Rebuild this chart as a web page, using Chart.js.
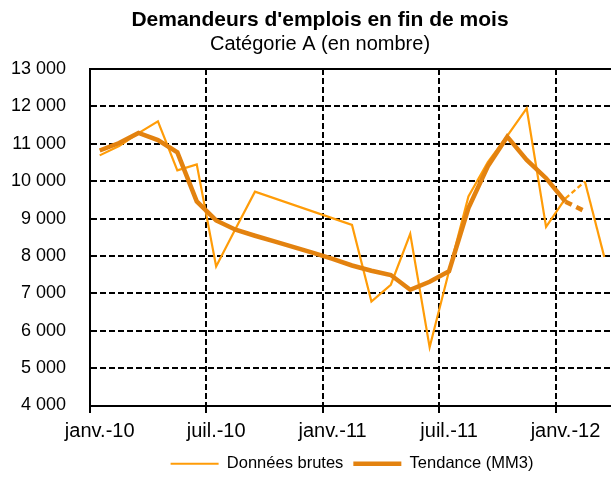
<!DOCTYPE html>
<html lang="fr">
<head>
<meta charset="utf-8">
<title>Demandeurs d'emplois en fin de mois</title>
<script src="https://cdn.jsdelivr.net/npm/chart.js@4.4.1/dist/chart.umd.min.js"></script>
<style>
  html, body { margin: 0; padding: 0; background: #fff; overflow: hidden; }
  #wrap { width: 704px; height: 488px; }
</style>
</head>
<body>
<div id="wrap"><canvas id="chart" width="704" height="488"></canvas></div>
<script>
// months on the x axis
const months = [
  'janv.-10', 'févr.-10', 'mars-10', 'avr.-10', 'mai-10', 'juin-10',
  'juil.-10', 'août-10', 'sept.-10', 'oct.-10', 'nov.-10', 'déc.-10',
  'janv.-11', 'févr.-11', 'mars-11', 'avr.-11', 'mai-11', 'juin-11',
  'juil.-11', 'août-11', 'sept.-11', 'oct.-11', 'nov.-11', 'déc.-11',
  'janv.-12', 'févr.-12', 'mars-12'
];

// raw monthly figures (gap Sept.-Dec. 2010 is bridged by a straight line)
const brutes = [
  10690, 10940, 11285, 11600, 10290, 10450,
  7720, 8730, 9720, null, null, null,
  null, 8830, 6780, 7230, 8590, 5560,
  7600, 9590, 10510, 11210, 11950, 8775,
  9540, 9990, 7970
];

// 3-month moving average
const tendance = [
  10820, 11020, 11290, 11100, 10770, 9460,
  8950, 8700, 8540, 8390, 8235, 8080,
  7920, 7745, 7605, 7490, 7095, 7310,
  7590, 9280, 10400, 11190, 10570, 10080,
  9450, 9195
];

const seriesNames = ['Données brutes', 'Tendance (MM3)'];
const titleText = "Demandeurs d'emplois en fin de mois";
const subtitleText = 'Catégorie A (en nombre)';

const FONT = "'Liberation Sans', Arial, sans-serif";

// title drawn slightly left of the canvas centre, like the original
const titlePlugin = {
  id: 'titre',
  afterDraw(chart) {
    const ctx = chart.ctx;
    ctx.save();
    ctx.fillStyle = '#000';
    ctx.textAlign = 'center';
    ctx.textBaseline = 'alphabetic';
    ctx.font = 'bold 21px ' + FONT;
    ctx.fillText(titleText, 320, 26);
    ctx.font = '20px ' + FONT;
    ctx.fillText(subtitleText, 320, 50);
    ctx.restore();
  }
};

function milliers(v) {
  return String(v).replace(/\B(?=(\d{3})+(?!\d))/g, ' ');
}

// dashed last segment (févr.-12 -> mars-12)
const lastDash = (dash) => (c) => c.p0DataIndex === 24 ? dash : undefined;

new Chart(document.getElementById('chart'), {
  type: 'line',
  data: {
    labels: months,
    datasets: [
      {
        label: seriesNames[0],
        data: brutes,
        borderColor: '#FF9C08',
        backgroundColor: '#FF9C08',
        borderWidth: 2.2,
        pointRadius: 0,
        spanGaps: true,
        tension: 0,
        order: 2,
        segment: { borderDash: lastDash([5, 3]) }
      },
      {
        label: seriesNames[1],
        data: tendance,
        borderColor: '#E3820F',
        backgroundColor: '#E3820F',
        borderWidth: 4.5,
        pointRadius: 0,
        tension: 0,
        order: 1,
        segment: { borderDash: lastDash([7, 5]) }
      }
    ]
  },
  options: {
    responsive: false,
    animation: false,
    layout: { padding: { top: 69, right: 0, bottom: 6, left: 0 } },
    plugins: {
      legend: {
        position: 'bottom',
        labels: {
          usePointStyle: true,
          pointStyle: 'line',
          pointStyleWidth: 48,
          padding: 10,
          color: '#000',
          font: { family: FONT, size: 16.5 },
          sort: (a, b) => a.datasetIndex - b.datasetIndex
        }
      },
      tooltip: { enabled: false }
    },
    scales: {
      x: {
        type: 'category',
        offset: true,
        grid: {
          offset: true,
          color: c => c.index % 6 === 0 ? '#000' : 'rgba(0,0,0,0)',
          lineWidth: 2,
          tickLength: 8,
          tickBorderDash: [6, 3]
        },
        border: { color: '#000', width: 2, dash: [6, 3] },
        ticks: {
          autoSkip: false,
          maxRotation: 0,
          padding: 6,
          color: '#000',
          font: { family: FONT, size: 20 },
          callback: (v, i) => i % 6 === 0 ? months[i] : ''
        },
        afterFit: s => { s.height = 40; }
      },
      x2: {
        type: 'linear',
        position: 'top',
        grid: { display: false, drawTicks: false },
        ticks: { display: false },
        border: { display: true, color: '#000', width: 2 }
      },
      y: {
        min: 4000,
        max: 13000,
        ticks: {
          stepSize: 1000,
          padding: 24,
          color: '#000',
          font: { family: FONT, size: 18 },
          callback: v => milliers(v)
        },
        grid: { color: '#000', lineWidth: 2, drawTicks: false },
        border: { color: '#000', width: 2, dash: [6, 3] },
        afterFit: s => { s.width = 90; }
      },
      // empty right-hand axis: keeps the plot the same width while the legend spans the whole canvas
      y2: {
        type: 'linear',
        position: 'right',
        grid: { display: false, drawTicks: false },
        ticks: { display: false },
        border: { display: false },
        afterFit: s => { s.width = 90; }
      }
    }
  },
  plugins: [titlePlugin]
});
</script>
</body>
</html>
